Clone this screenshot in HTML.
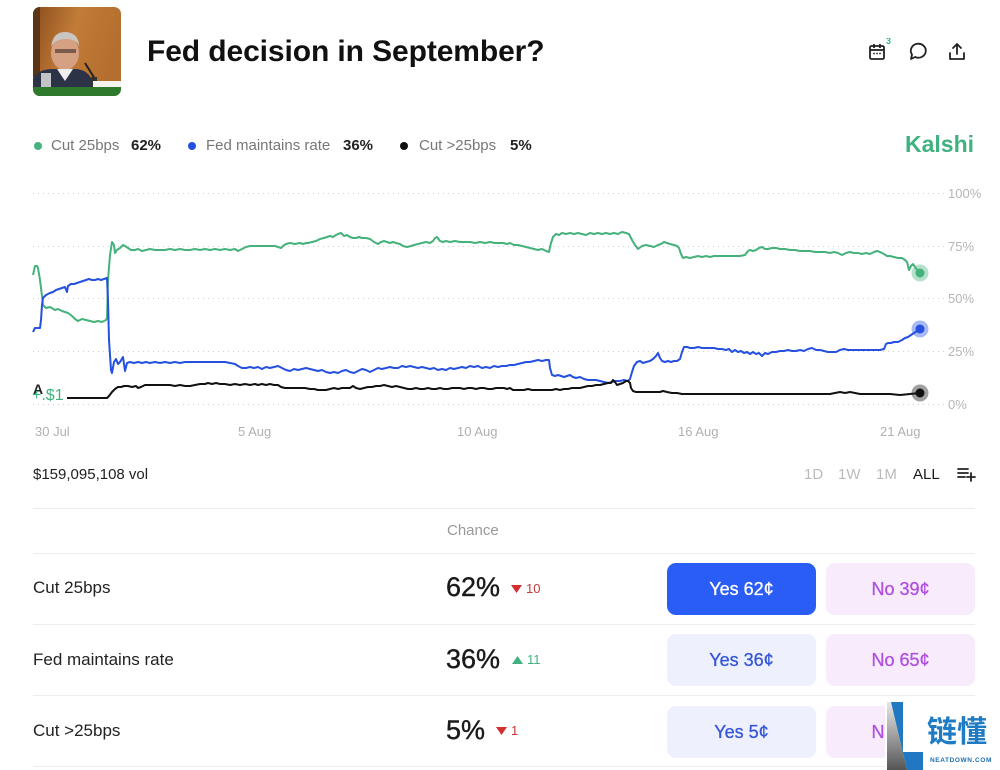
<!DOCTYPE html>
<html><head><meta charset="utf-8">
<style>
html,body{margin:0;padding:0;background:#fff;}
body{width:1000px;height:770px;overflow:hidden;position:relative;font-family:"Liberation Sans","Noto Sans CJK SC",sans-serif;color:#222;}
.a{position:absolute;white-space:nowrap;}
.leg{font-size:15px;color:#777;top:137px;}
.legv{font-size:15px;color:#222;font-weight:bold;top:137px;}
.dot{position:absolute;width:8px;height:8px;border-radius:50%;top:142px;}
.yl{font-size:13px;color:#b5b5b5;left:948px;}
.xl{font-size:13px;color:#b0b0b0;top:424px;}
.hr{position:absolute;left:33px;width:942px;height:1px;background:#ededed;}
.rl{font-size:17px;color:#222;left:33px;}
.pct{font-size:27px;color:#1a1a1a;left:446px;-webkit-text-stroke:0.4px #1a1a1a;}
.btn{position:absolute;width:149px;height:52px;border-radius:9px;text-align:center;line-height:52px;font-size:18px;-webkit-text-stroke:0.3px currentColor;}
.yes{background:#eef1fd;color:#3556d8;}
.no{background:#f7ebfc;color:#b04fe0;}
</style></head><body>

<!-- photo -->
<svg class="a" style="left:33px;top:7px" width="88" height="89" viewBox="0 0 88 89">
<defs>
<clipPath id="cp"><rect width="88" height="89" rx="7"/></clipPath>
<linearGradient id="bg" x1="0" y1="0" x2="1" y2="0.3"><stop offset="0" stop-color="#8a4d1c"/><stop offset="0.5" stop-color="#c27c38"/><stop offset="1" stop-color="#b46e2e"/></linearGradient>
</defs>
<g clip-path="url(#cp)">
<rect width="88" height="89" fill="url(#bg)"/>
<rect x="0" y="0" width="7" height="70" fill="#5a3415"/>
<ellipse cx="32" cy="46" rx="14" ry="17" fill="#d6a083"/>
<path d="M18 40 Q20 24 33 25 Q46 26 46 40 Q44 32 33 32 Q22 32 18 40Z" fill="#c9c6c2"/>
<rect x="22" y="42" width="21" height="4" fill="#3a2e2a" opacity="0.6"/>
<path d="M0 72 Q5 62 20 62 L44 62 Q58 64 60 78 L60 89 L0 89Z" fill="#2c3346"/>
<path d="M24 62 L32 74 L40 62Z" fill="#eee"/>
<rect x="8" y="66" width="10" height="14" fill="#e9e9e9" opacity="0.8"/>
<path d="M52 56 L62 72" stroke="#222" stroke-width="2"/>
<rect x="58" y="70" width="6" height="10" fill="#333"/>
<rect x="60" y="74" width="28" height="11" fill="#f3f3f0"/>
<rect x="0" y="80" width="88" height="9" fill="#2e7a2c"/>
</g></svg>

<div class="a" style="left:147px;top:35px;font-size:30px;font-weight:bold;color:#111;letter-spacing:-0.1px">Fed decision in September?</div>

<!-- icons -->
<svg class="a" style="left:866px;top:38px" width="110" height="26" viewBox="0 0 110 26">
<rect x="4" y="8" width="14" height="13" rx="1.5" fill="none" stroke="#222" stroke-width="1.8"/>
<line x1="4" y1="12" x2="18" y2="12" stroke="#222" stroke-width="1.8"/>
<line x1="8" y1="6" x2="8" y2="10" stroke="#222" stroke-width="1.8"/>
<line x1="14" y1="6" x2="14" y2="10" stroke="#222" stroke-width="1.8"/>
<circle cx="8" cy="15.5" r="0.9" fill="#222"/><circle cx="11" cy="15.5" r="0.9" fill="#222"/><circle cx="14" cy="15.5" r="0.9" fill="#222"/>
<text x="20" y="6" font-size="9" font-weight="bold" fill="#3fb27f" font-family="Liberation Sans">3</text>
<path d="M45 21 L46 16.5 A7.5 7 0 1 1 49 19 Z" fill="none" stroke="#222" stroke-width="1.8" stroke-linejoin="round"/>
<path d="M91 6 L91 16 M87 10 L91 6 L95 10" fill="none" stroke="#222" stroke-width="1.8" stroke-linecap="round" stroke-linejoin="round"/>
<path d="M84 15 L84 21 L98 21 L98 15" fill="none" stroke="#222" stroke-width="1.8" stroke-linecap="round" stroke-linejoin="round"/>
</svg>

<!-- legend -->
<div class="dot" style="left:34px;background:#45b27c"></div>
<div class="a leg" style="left:51px">Cut 25bps</div>
<div class="a legv" style="left:131px">62%</div>
<div class="dot" style="left:188px;background:#2550e0"></div>
<div class="a leg" style="left:206px">Fed maintains rate</div>
<div class="a legv" style="left:343px">36%</div>
<div class="dot" style="left:400px;background:#111"></div>
<div class="a leg" style="left:419px">Cut &gt;25bps</div>
<div class="a legv" style="left:510px">5%</div>
<div class="a" style="left:905px;top:131px;font-size:23px;font-weight:bold;color:#3fb27f">Kalshi</div>

<!-- chart -->
<svg class="a" style="left:0;top:0" width="1000" height="450" viewBox="0 0 1000 450">
<g stroke="#cfcfcf" stroke-width="1" stroke-dasharray="1 4">
<line x1="33" y1="193.5" x2="944" y2="193.5"/>
<line x1="33" y1="246.5" x2="944" y2="246.5"/>
<line x1="33" y1="298.5" x2="944" y2="298.5"/>
<line x1="33" y1="351.5" x2="944" y2="351.5"/>
<line x1="33" y1="404.5" x2="944" y2="404.5"/>
</g>
<polyline fill="none" stroke="#45b27c" stroke-width="2" stroke-linejoin="round" points="33,275 35,266 37,266 38,268 40,280 42,296 43,305 46,308 50,307 55,310 58,309 62,311 65,312 68,313 72,316 75,319 78,321 82,319 86,320 90,321 94,322 98,321 102,322 106,320 107,318 108,280 110,255 112,242 114,245 115,253 117,250 120,248 123,245 125,246 128,248 131,250 135,250 138,249 142,251 146,250 150,249 155,250 160,250 165,250 170,249 175,250 180,249 185,250 190,250 195,249 200,250 205,249 210,250 215,249 220,250 225,249 230,250 235,249 238,251 242,249 246,247 250,246 255,246 260,246 265,246 270,246 275,246 278,247 281,248 283,246 286,244 290,243 295,244 300,243 303,244 306,243 308,243 312,242 316,241 320,239 324,238 327,237 330,236 333,237 336,235 338,234 341,233 344,236 347,235 350,237 353,238 356,238 359,237 362,238 366,238 370,239 374,242 378,244 381,242 384,241 387,242 390,243 393,242 396,243 400,244 403,246 407,247 411,246 414,245 418,244 422,243 426,242 430,243 433,241 435,238 437,237 440,241 443,242 446,241 450,242 455,241 460,242 465,242 470,242 475,243 480,242 485,243 490,242 495,243 500,243 503,243 507,244 510,243 514,245 518,245 522,246 526,247 530,248 534,249 538,250 542,249 546,251 549,252 551,243 553,237 556,234 559,235 562,233 566,234 570,233 574,234 578,233 582,234 586,235 590,233 594,234 598,233 602,234 606,233 610,234 614,233 618,234 622,232 626,233 629,234 632,240 635,245 638,249 642,246 646,245 650,246 654,247 658,245 661,244 664,242 667,243 670,244 674,245 677,246 679,248 681,254 683,258 686,257 690,258 694,257 698,256 702,257 706,256 710,257 714,256 718,256 722,256 726,256 730,256 735,256 740,256 745,255 748,251 750,250 753,251 756,250 759,248 762,247 765,249 768,249 772,248 776,248 780,249 785,249 790,250 795,250 800,251 805,251 810,251 815,252 820,252 825,252 830,253 834,252 838,253 842,255 846,253 850,252 854,253 858,253 862,254 866,253 870,254 874,252 877,251 880,252 884,254 887,256 890,256 894,257 898,258 902,258 905,260 907,262 909,270 911,266 913,264 915,267 918,271 920,273"/>
<polyline fill="none" stroke="#2550e0" stroke-width="2" stroke-linejoin="round" points="33,332 35,328 37,328 40,328 41,320 42,305 43,298 46,295 50,293 53,292 56,290 59,289 62,288 65,287 67,292 68,286 71,284 74,284 77,283 80,282 83,281 86,280 89,279 92,280 95,280 98,279 101,280 104,279 107,278 108,300 109,340 111,370 112,373 114,362 116,359 118,364 120,362 123,357 125,371 127,363 130,362 134,363 138,362 142,363 146,362 150,363 155,362 160,363 165,362 170,363 175,362 180,363 185,362 190,362 195,362 200,362 205,362 210,362 215,362 220,362 225,362 230,363 235,364 238,366 242,368 246,368 250,367 254,368 258,367 262,369 266,367 270,368 274,367 278,366 282,368 286,370 290,371 294,369 298,370 302,369 306,368 310,369 314,370 318,371 322,370 326,372 330,373 334,372 338,373 342,371 346,370 350,372 354,373 358,371 362,369 366,370 370,372 374,370 378,368 382,369 386,368 390,367 394,368 398,368 402,366 406,367 410,366 414,367 418,368 422,367 426,368 430,369 434,368 438,370 442,369 446,370 450,368 454,369 458,368 462,367 466,368 470,366 474,367 478,366 482,368 486,367 490,368 494,366 498,367 502,366 506,366 510,365 514,365 518,364 522,363 526,362 530,362 534,361 538,360 542,361 546,360 549,360 550,368 552,375 555,376 558,375 561,376 564,377 567,376 570,375 573,377 576,378 580,377 584,379 588,380 592,380 596,380 600,381 604,382 608,383 612,382 616,381 620,381 624,380 628,381 630,379 632,372 634,366 637,362 640,361 643,363 646,362 650,361 653,359 656,356 658,353 660,358 662,361 665,362 668,361 671,362 674,361 677,361 680,359 682,352 684,347 687,347 690,348 694,348 698,347 702,348 706,348 710,348 714,348 718,349 722,349 726,350 729,349 732,352 735,350 738,352 741,351 744,353 747,352 750,354 753,352 756,354 759,353 762,356 765,353 768,354 772,352 776,352 780,351 784,351 788,350 792,351 796,351 800,350 804,351 808,349 812,348 816,350 820,350 824,351 828,352 832,352 836,352 840,350 844,349 848,350 852,350 856,350 860,350 864,350 868,350 872,350 876,350 880,350 884,349 886,344 888,343 891,343 894,342 898,342 902,340 905,338 908,337 911,335 914,333 917,331 920,329"/>
<polyline fill="none" stroke="#111" stroke-width="2" stroke-linejoin="round" points="67,398 80,398 95,398 107,398 109,396 112,392 115,389 118,387 121,387 124,386 128,386 132,387 136,386 138,388 141,387 145,385 150,385 155,385 160,385 165,385 170,385 175,386 180,385 185,386 190,386 195,385 200,384 205,384 208,383 212,384 216,383 220,384 225,384 230,385 235,384 240,385 245,384 250,385 255,384 258,385 262,384 266,385 270,384 274,385 278,385 281,387 285,388 290,388 295,388 300,388 305,388 310,389 314,389 318,390 322,390 326,390 330,389 334,388 338,389 342,388 346,388 350,388 353,386 356,388 360,389 364,388 368,387 372,387 376,386 380,386 384,385 388,386 392,387 396,386 400,387 404,388 408,389 412,389 416,388 420,389 424,389 428,388 432,389 436,389 440,388 444,389 448,389 452,388 456,388 460,388 464,389 468,388 472,388 476,389 480,388 484,388 488,389 492,389 496,388 500,388 504,388 507,389 510,388 513,390 516,390 520,390 524,390 528,389 532,390 536,390 540,390 544,390 548,390 552,390 556,389 560,390 564,389 568,389 572,388 576,388 580,388 584,387 588,386 592,386 596,385 600,385 604,384 608,383 611,383 613,380 615,382 617,385 620,384 623,383 626,381 628,381 630,383 631,388 633,391 636,392 640,392 645,392 650,392 655,392 660,392 663,391 667,392 672,393 677,393 682,394 690,394 700,394 710,394 720,394 730,394 740,394 750,394 760,394 770,394 780,394 790,394 800,394 810,394 820,394 830,394 835,393 840,392 845,393 850,392 855,393 860,394 870,394 880,394 890,394 900,395 910,394 920,393"/>
<circle cx="920" cy="273" r="8.5" fill="#45b27c" opacity="0.4"/><circle cx="920" cy="273" r="4.5" fill="#45b27c"/>
<circle cx="920" cy="329" r="8.5" fill="#2550e0" opacity="0.4"/><circle cx="920" cy="329" r="4.5" fill="#2550e0"/>
<circle cx="920" cy="393" r="8.5" fill="#111" opacity="0.4"/><circle cx="920" cy="393" r="4.5" fill="#111"/>
<text x="33" y="394" font-size="14" font-weight="bold" fill="#222" font-family="Liberation Sans">A</text>
<text x="32" y="400" font-size="16" fill="#3fb27f" font-family="Liberation Sans">+.$1</text>
</svg>

<div class="a yl" style="top:186px">100%</div>
<div class="a yl" style="top:239px">75%</div>
<div class="a yl" style="top:291px">50%</div>
<div class="a yl" style="top:344px">25%</div>
<div class="a yl" style="top:397px">0%</div>

<div class="a xl" style="left:35px">30 Jul</div>
<div class="a xl" style="left:238px">5 Aug</div>
<div class="a xl" style="left:457px">10 Aug</div>
<div class="a xl" style="left:678px">16 Aug</div>
<div class="a xl" style="left:880px">21 Aug</div>

<!-- volume row -->
<div class="a" style="left:33px;top:466px;font-size:15px;color:#222">$159,095,108 vol</div>
<div class="a" style="left:804px;top:466px;font-size:15px;color:#bbb">1D</div>
<div class="a" style="left:838px;top:466px;font-size:15px;color:#bbb">1W</div>
<div class="a" style="left:876px;top:466px;font-size:15px;color:#bbb">1M</div>
<div class="a" style="left:913px;top:466px;font-size:15px;color:#1a1a1a">ALL</div>
<svg class="a" style="left:956px;top:466px" width="20" height="16" viewBox="0 0 20 16">
<g stroke="#222" stroke-width="1.8" stroke-linecap="round"><line x1="2" y1="3" x2="12" y2="3"/><line x1="2" y1="7" x2="12" y2="7"/><line x1="2" y1="11" x2="9" y2="11"/><line x1="15" y1="7" x2="15" y2="15"/><line x1="11" y1="11" x2="19" y2="11"/></g>
</svg>

<div class="hr" style="top:508px"></div>
<div class="a" style="left:447px;top:522px;font-size:15px;color:#999">Chance</div>
<div class="hr" style="top:553px"></div>

<!-- row 1 -->
<div class="a rl" style="top:578px">Cut 25bps</div>
<div class="a pct" style="top:572px">62%</div>
<svg class="a" style="left:511px;top:585px" width="11" height="8"><path d="M0 0 L11 0 L5.5 8Z" fill="#d32f2f"/></svg>
<div class="a" style="left:526px;top:581px;font-size:13px;color:#c73a3a">10</div>
<div class="btn" style="left:667px;top:563px;background:#2a5cf6;color:#fff">Yes 62¢</div>
<div class="btn no" style="left:826px;top:563px">No 39¢</div>
<div class="hr" style="top:624px"></div>

<!-- row 2 -->
<div class="a rl" style="top:650px">Fed maintains rate</div>
<div class="a pct" style="top:644px">36%</div>
<svg class="a" style="left:512px;top:656px" width="11" height="8"><path d="M0 8 L11 8 L5.5 0Z" fill="#3fb27f"/></svg>
<div class="a" style="left:527px;top:652px;font-size:13px;color:#3fb27f">11</div>
<div class="btn yes" style="left:667px;top:634px">Yes 36¢</div>
<div class="btn no" style="left:826px;top:634px">No 65¢</div>
<div class="hr" style="top:695px"></div>

<!-- row 3 -->
<div class="a rl" style="top:721px">Cut &gt;25bps</div>
<div class="a pct" style="top:715px">5%</div>
<svg class="a" style="left:496px;top:727px" width="11" height="8"><path d="M0 0 L11 0 L5.5 8Z" fill="#d32f2f"/></svg>
<div class="a" style="left:511px;top:723px;font-size:13px;color:#c73a3a">1</div>
<div class="btn yes" style="left:667px;top:706px">Yes 5¢</div>
<div class="btn no" style="left:826px;top:706px">No 96¢</div>
<div class="hr" style="top:766px"></div>

<!-- watermark -->
<div class="a" style="left:885px;top:699px;width:115px;height:71px;background:#fff"></div>
<svg class="a" style="left:885px;top:700px" width="40" height="70" viewBox="0 0 40 70">
<defs><linearGradient id="gr" x1="0" y1="0" x2="0" y2="1"><stop offset="0" stop-color="#e8e8e8"/><stop offset="1" stop-color="#555"/></linearGradient></defs>
<polygon points="2,2 6,2 22,70 2,70" fill="url(#gr)"/>
<polygon points="6,2 18,2 18,52 38,52 38,70 22,70" fill="#1f78c1"/>
</svg>
<div class="a" style="left:927px;top:711px;font-size:30px;font-weight:bold;color:#1f7bc4;font-family:'Noto Sans CJK SC','WenQuanYi Zen Hei',sans-serif;line-height:36px">链懂</div>
<div class="a" style="left:930px;top:757px;font-size:6.5px;font-weight:bold;color:#1f6fb0;letter-spacing:0.6px">NEATDOWN.COM</div>

</body></html>
